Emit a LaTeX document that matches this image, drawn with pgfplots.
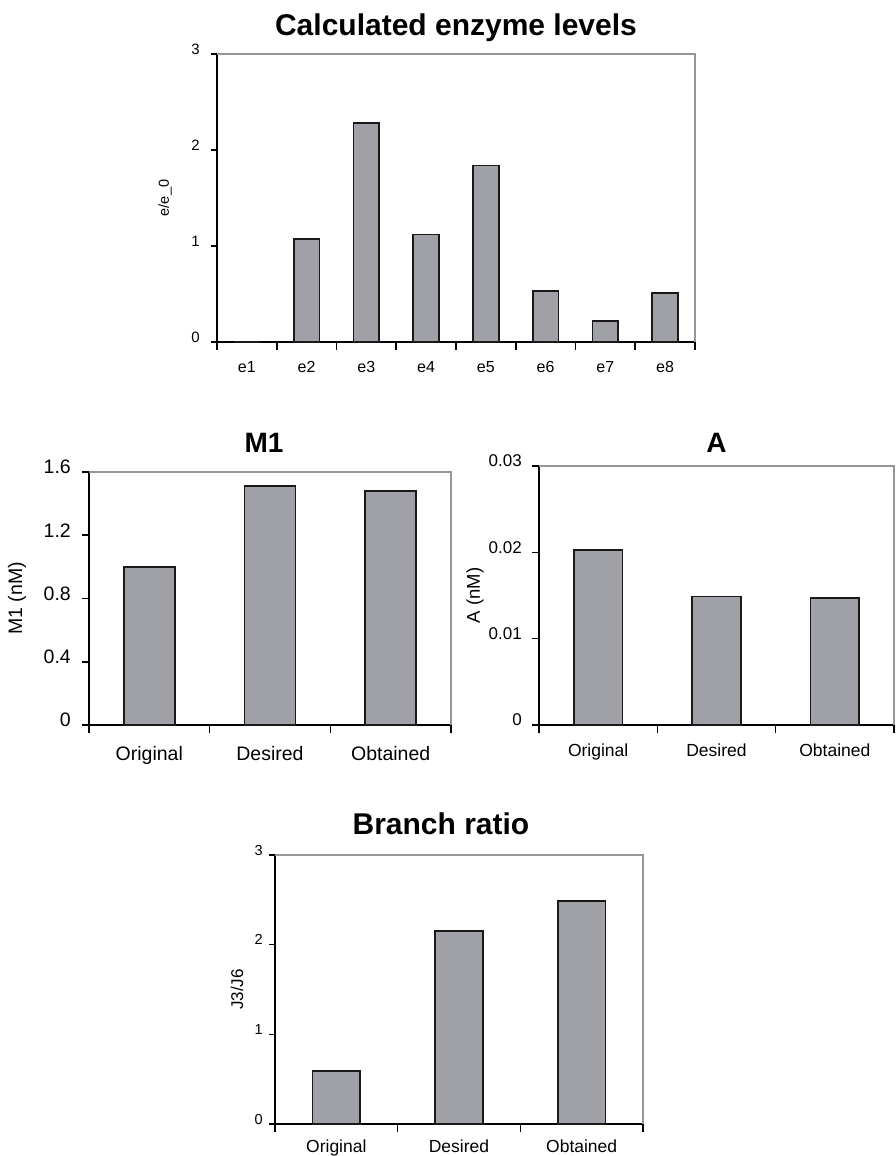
\documentclass[border=0pt]{standalone}
\usepackage{pgfplots}
\pgfplotsset{compat=1.18}
\usepackage{fontspec}
\setmainfont{Liberation Sans}
\definecolor{barfill}{RGB}{160,161,166}
\definecolor{framegray}{RGB}{150,150,150}
\newcommand{\fs}[1]{\fontsize{#1}{#1}\selectfont}
\pgfplotsset{
  panel/.style={
    scale only axis, anchor=south west,
    axis x line*=bottom, axis y line*=left,
    axis line style={black, line width=1.8pt},
    ymin=0, ybar,
    tick style={black, line width=1.6pt},
    tick align=outside,
    major tick length=6pt,
    major x tick style={draw=none},
    extra x tick labels={},
    extra x tick style={major x tick style={draw=black, line width=1.6pt}, major tick length=8pt},
    /pgf/number format/assume math mode=true,
    yticklabel style={anchor=east, inner sep=0pt, yshift=5pt},
    xticklabel style={anchor=base, inner sep=0pt},
    every axis title/.style={at={(rel axis cs:0.5,1)}, anchor=center, font=\fs{28}\bfseries},
    every axis y label/.style={at={(rel axis cs:0,0.5)}, rotate=90, anchor=center},
    clip=false,
  },
  barstyle/.style={fill=barfill, draw=black!90, line width=1.7pt},
}
\begin{document}
\begin{tikzpicture}
\path[use as bounding box] (0,0) rectangle (895pt,-1156pt);

% Panel 1
\begin{axis}[panel, at={(217pt,-342pt)}, width=478pt, height=288pt,
  xmin=0.5, xmax=8.5, ymax=3, bar width=0.43,
  xtick={1,...,8}, xticklabels={e1,e2,e3,e4,e5,e6,e7,e8},
  extra x ticks={0.5,1.5,...,8.5},
  ytick={0,1,2,3}, yticklabels={0,1,2,3},
  xticklabel style={font=\fs{16}, yshift=-24.5pt},
  yticklabel style={font=\fs{15}, xshift=-11pt},
  ylabel={e/e\_0}, ylabel style={font=\fs{14.5}, yshift=52pt},
  title={Calculated enzyme levels}, title style={yshift=26pt, font=\fs{30}\bfseries},
]
\addplot[barstyle] coordinates {(1,0) (2,1.07) (3,2.28) (4,1.12) (5,1.84) (6,0.53) (7,0.22) (8,0.51)};
\draw[framegray, line width=1.3pt] (rel axis cs:0,1) -- (rel axis cs:1,1) -- (rel axis cs:1,0);
\end{axis}

% Panel 2
\begin{axis}[panel, at={(89pt,-725pt)}, width=362pt, height=253pt,
  xmin=0.5, xmax=3.5, ymax=1.6, bar width=0.425,
  xtick={1,2,3}, xticklabels={Original,Desired,Obtained},
  extra x ticks={0.5,1.5,2.5,3.5}, major tick length=7pt,
  ytick={0,0.4,0.8,1.2,1.6}, yticklabels={0,0.4,0.8,1.2,1.6},
  xticklabel style={font=\fs{19.5}, yshift=-28pt},
  yticklabel style={font=\fs{19.5}, xshift=-11pt},
  ylabel={M1 (nM)}, ylabel style={font=\fs{19.5}, yshift=72pt},
  title={M1}, title style={yshift=29pt, xshift=-6pt},
]
\addplot[barstyle] coordinates {(1,1.0) (2,1.51) (3,1.48)};
\draw[framegray, line width=1.3pt] (rel axis cs:0,1) -- (rel axis cs:1,1) -- (rel axis cs:1,0);
\end{axis}

% Panel 3
\begin{axis}[panel, at={(539pt,-725pt)}, width=355pt, height=259pt,
  xmin=0.5, xmax=3.5, ymax=0.03, bar width=0.41,
  xtick={1,2,3}, xticklabels={Original,Desired,Obtained},
  extra x ticks={0.5,1.5,2.5,3.5}, major tick length=7pt,
  ytick={0,0.01,0.02,0.03}, yticklabels={0,0.01,0.02,0.03},
  scaled y ticks=false,
  xticklabel style={font=\fs{17.5}, yshift=-24.3pt},
  yticklabel style={font=\fs{17}, xshift=-10pt},
  ylabel={A (nM)}, ylabel style={font=\fs{18.5}, yshift=64pt},
  title={A}, title style={yshift=23pt},
]
\addplot[barstyle] coordinates {(1,0.0203) (2,0.0149) (3,0.0147)};
\draw[framegray, line width=1.3pt] (rel axis cs:0,1) -- (rel axis cs:1,1) -- (rel axis cs:1,0);
\end{axis}

% Panel 4
\begin{axis}[panel, at={(275pt,-1124pt)}, width=368pt, height=269pt,
  xmin=0.5, xmax=3.5, ymax=3, bar width=0.39,
  xtick={1,2,3}, xticklabels={Original,Desired,Obtained},
  extra x ticks={0.5,1.5,2.5,3.5},
  ytick={0,1,2,3}, yticklabels={0,1,2,3},
  xticklabel style={font=\fs{17.5}, yshift=-22.3pt},
  yticklabel style={font=\fs{14.5}, xshift=-6pt},
  ylabel={J3/J6}, ylabel style={font=\fs{17}, yshift=38pt},
  title={Branch ratio}, title style={yshift=31pt, xshift=-18pt, font=\fs{30}\bfseries},
]
\addplot[barstyle] coordinates {(1,0.59) (2,2.15) (3,2.49)};
\draw[framegray, line width=1.3pt] (rel axis cs:0,1) -- (rel axis cs:1,1) -- (rel axis cs:1,0);
\end{axis}
\end{tikzpicture}
\end{document}
